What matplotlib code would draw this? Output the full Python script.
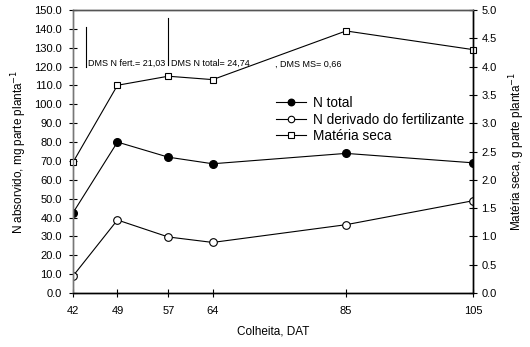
import matplotlib
matplotlib.use("Agg")
import matplotlib.pyplot as plt

plt.rcParams['font.family'] = ['Liberation Sans', 'DejaVu Sans']

# Daten
dat = [42, 49, 57, 64, 85, 105]
n_total = [42.5, 80.0, 72.0, 68.5, 74.0, 69.0]
n_fert = [9.0, 38.7, 29.7, 26.8, 36.2, 48.9]
materia_seca = [2.31, 3.67, 3.83, 3.77, 4.63, 4.30]

dms_x = [44.1, 57.0]
dms_top = [141.0, 145.5]
dms_bottom = [120.0, 120.8]
dms_text = ["DMS N fert.= 21,03", "DMS N total= 24,74", ", DMS MS= 0,66"]
dms_text_x = [44.4, 57.4, 73.8]
dms_text_y = [121.5, 121.5, 121.2]


def main():
    fig = plt.figure(figsize=(5.3, 3.47), dpi=100)
    ax1 = fig.add_axes([73/530, 1 - 293/347, 400/530, 283/347])
    ax2 = ax1.twinx()

    l1, = ax1.plot(dat, n_total, color='black', lw=0.8, marker='o', ms=5.5,
                   mfc='black', mec='black', label='N total')
    l2, = ax1.plot(dat, n_fert, color='black', lw=0.8, marker='o', ms=5.5,
                   mfc='white', mec='black', mew=0.8, label='N derivado do fertilizante')
    l3, = ax2.plot(dat, materia_seca, color='black', lw=0.8, marker='s', ms=5,
                   mfc='white', mec='black', mew=0.8, label='Matéria seca', clip_on=False)

    # DMS-Linien
    for x, top, bot in zip(dms_x, dms_top, dms_bottom):
        ax1.plot([x, x], [bot, top], color='black', lw=0.8)
    for x, y, t in zip(dms_text_x, dms_text_y, dms_text):
        ax1.text(x, y, t, fontsize=6.5, va='center', ha='left')

    ax1.set_xlim(42, 105)
    ax1.set_ylim(0, 150)
    ax2.set_ylim(0, 5)
    ax1.set_xticks(dat)
    ax1.set_xticklabels([str(d) for d in dat])
    ax1.set_yticks([i * 10 for i in range(16)])
    ax1.set_yticklabels([f"{i * 10:.1f}" for i in range(16)])
    ax2.set_yticks([i * 0.5 for i in range(11)])
    ax2.set_yticklabels([f"{i * 0.5:.1f}" for i in range(11)])

    for ax in (ax1, ax2):
        ax.tick_params(direction='inout', length=6, width=0.8, labelsize=8, pad=3)
        for s in ax.spines.values():
            s.set_linewidth(1.0)
    ax1.tick_params(axis='x', pad=6)
    ax1.tick_params(axis='y', pad=5)
    ax1.spines['left'].set_color('#777777')
    ax1.spines['top'].set_color('#555555')
    ax2.spines['top'].set_color('#555555')
    ax2.spines['left'].set_color('#777777')

    ax1.set_xlabel("Colheita, DAT", fontsize=8.5, labelpad=7)
    ax1.set_ylabel("N absorvido, mg parte planta$^{-1}$", fontsize=8.5, labelpad=4)
    ax2.set_ylabel("Matéria seca, g parte planta$^{-1}$", fontsize=8.5, labelpad=8)

    ax1.legend(handles=[l1, l2, l3], loc='upper left', bbox_to_anchor=(0.495, 0.715),
               frameon=False, fontsize=9.8, handlelength=2.2, handletextpad=0.5,
               labelspacing=0.18, borderaxespad=0, markerscale=0.85)

    fig.savefig("out.png", dpi=100)


if __name__ == "__main__":
    main()
